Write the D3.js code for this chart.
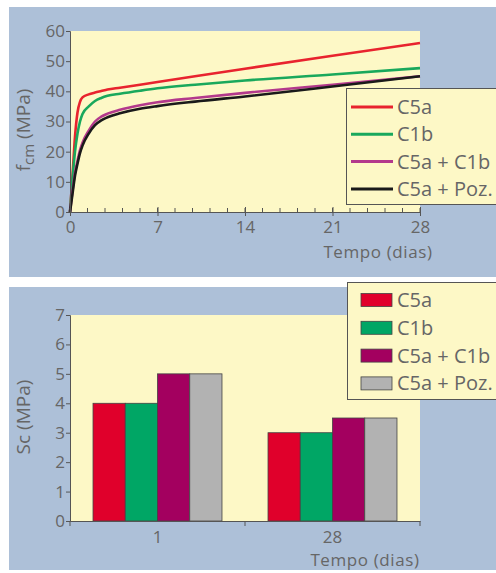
<!DOCTYPE html>
<html>
<head>
<meta charset="utf-8">
<script src="https://cdn.jsdelivr.net/npm/d3@7"></script>
<style>
  body { margin: 0; background: #fff; }
  text { font-family: "Open Sans", sans-serif; fill: #666; }
</style>
</head>
<body>
<div id="root"></div>
<script>
// curva de resistência (dias, MPa)
const days = [0, 0.2, 0.4, 0.6, 0.8, 1, 1.5, 2, 2.5, 3, 4, 5.6, 7, 10, 14, 21, 28];
const c5a      = [0, 12, 25, 33, 36.5, 38, 39, 39.6, 40.1, 40.6, 41.2, 42.2, 43.1, 45, 47.5, 51.8, 56];
const c1b      = [0, 11, 20, 26, 30, 32.5, 35, 36.8, 37.8, 38.5, 39.2, 40.2, 41, 42.2, 43.6, 45.6, 47.7];
const c5aC1b   = [0, 7, 13, 17, 20.5, 23, 27, 30, 31.6, 32.6, 33.9, 35.4, 36.4, 37.8, 39.5, 42.2, 45];
const c5aPoz   = [0, 6, 12, 16, 19.5, 22, 26, 28.8, 30.4, 31.4, 32.7, 34.2, 35.1, 36.6, 38.3, 41.6, 45];
const xTicksTop = [0, 7, 14, 21, 28];
const yTicksTop = [0, 10, 20, 30, 40, 50, 60];

// Sc (MPa) por idade
const ages = ["1", "28"];
const seriesNames = ["C5a", "C1b", "C5a + C1b", "C5a + Poz."];
const scAge1 = [4, 4, 5, 5];
const scAge28 = [3, 3, 3.5, 3.5];
const yTicksBottom = [0, 1, 2, 3, 4, 5, 6, 7];

const lineColors = ["#e8232e", "#19a85c", "#b3398c", "#1a1a1a"];
const barColors = ["#e0002b", "#00a665", "#a3005f", "#b2b2b2"];
const panelBlue = "#adc0d8";
const plotYellow = "#fdf8c6";
const axisColor = "#555";
const tickFont = "17px";

let svg = d3.select("#root").append("svg")
  .attr("width", 496).attr("height", 573);

// ---------- painel superior ----------
svg.append("rect").attr("x", 9).attr("y", 7).attr("width", 487).attr("height", 270)
  .attr("fill", panelBlue);

let x = d3.scaleLinear().domain([0, 28]).range([70, 420]);
let y = d3.scaleLinear().domain([0, 60]).range([212, 31]);

svg.append("rect").attr("x", x(0)).attr("y", y(60))
  .attr("width", x(28) - x(0)).attr("height", y(0) - y(60)).attr("fill", plotYellow);

let curvesG = svg.append("g");
let series = [c5a, c1b, c5aC1b, c5aPoz];
let line = d3.line()
  .curve(d3.curveMonotoneX)
  .x((d, i) => x(days[i]))
  .y(d => y(d));
series.forEach((s, k) => {
  curvesG.append("path").datum(s)
    .attr("fill", "none")
    .attr("stroke", lineColors[k])
    .attr("stroke-width", 2.6)
    .attr("d", line);
});

// eixo y
let yAxis = svg.append("g").attr("transform", `translate(${x(0)},0)`)
  .call(d3.axisLeft(y).tickValues(yTicksTop).tickSize(4).tickPadding(1));
yAxis.select(".domain").attr("stroke", axisColor);
yAxis.selectAll("line").attr("stroke", axisColor);
yAxis.selectAll("text").style("font-size", tickFont).attr("fill", "#666");

// eixo x (ticks menores para dentro)
let minor = d3.range(0, 28.01, 1.4);
svg.append("g").selectAll("line").data(minor).join("line")
  .attr("x1", d => x(d)).attr("x2", d => x(d))
  .attr("y1", y(0) - 4).attr("y2", y(0))
  .attr("stroke", axisColor);
let xAxis = svg.append("g").attr("transform", `translate(0,${y(0)})`)
  .call(d3.axisBottom(x).tickValues(xTicksTop).tickSize(4).tickPadding(5));
xAxis.select(".domain").attr("stroke", axisColor);
xAxis.selectAll(".tick line").attr("y1", -5).attr("stroke", axisColor);
xAxis.selectAll("text").style("font-size", tickFont).attr("fill", "#666");

svg.append("text").attr("x", 378).attr("y", 258).attr("text-anchor", "middle")
  .style("font-size", "17px").style("letter-spacing", "0.6px").text("Tempo (dias)");

let yl = svg.append("text").attr("transform", "translate(30,130) rotate(-90)")
  .attr("text-anchor", "middle").style("font-size", "19px");
yl.append("tspan").text("f");
yl.append("tspan").attr("dy", 4).style("font-size", "15px").text("cm");
yl.append("tspan").attr("dy", -4).text(" (MPa)");

// legenda superior
let legTop = svg.append("g");
legTop.append("rect").attr("x", 346.5).attr("y", 88.5).attr("width", 160).attr("height", 116)
  .attr("fill", plotYellow).attr("stroke", axisColor);
seriesNames.forEach((n, k) => {
  let ly = 107 + k * 27.3;
  legTop.append("line").attr("x1", 351).attr("x2", 393).attr("y1", ly).attr("y2", ly)
    .attr("stroke", lineColors[k]).attr("stroke-width", 3);
  legTop.append("text").attr("x", 397).attr("y", ly + 7)
    .style("font-size", "20px").attr("fill", "#555").text(n);
});

// ---------- painel inferior ----------
svg.append("rect").attr("x", 9).attr("y", 287).attr("width", 487).attr("height", 283)
  .attr("fill", panelBlue);

let xb = d3.scaleBand().domain(ages).range([70, 420])
  .paddingInner(0.263).paddingOuter(0.1315);
let xs = d3.scaleBand().domain(seriesNames).range([0, xb.bandwidth()]);
let yb = d3.scaleLinear().domain([0, 7]).range([521, 315]);

svg.append("rect").attr("x", 70).attr("y", yb(7))
  .attr("width", 350).attr("height", yb(0) - yb(7)).attr("fill", plotYellow);

let barData = ages.map((a, i) => ({ age: a, values: i === 0 ? scAge1 : scAge28 }));
let groups = svg.append("g").selectAll("g").data(barData).join("g")
  .attr("transform", d => `translate(${xb(d.age)},0)`);
groups.selectAll("rect").data(d => d.values.map((v, k) => ({ name: seriesNames[k], v, k })))
  .join("rect")
  .attr("x", d => xs(d.name))
  .attr("y", d => yb(d.v))
  .attr("width", xs.bandwidth())
  .attr("height", d => yb(0) - yb(d.v))
  .attr("fill", d => barColors[d.k])
  .attr("stroke", "#444")
  .attr("stroke-width", 0.8);

let yAxisB = svg.append("g").attr("transform", "translate(70,0)")
  .call(d3.axisLeft(yb).tickValues(yTicksBottom).tickFormat(d3.format("d"))
    .tickSize(4).tickPadding(1));
yAxisB.select(".domain").attr("stroke", axisColor);
yAxisB.selectAll("line").attr("stroke", axisColor);
yAxisB.selectAll("text").style("font-size", tickFont).attr("fill", "#666");

let xAxisB = svg.append("g").attr("transform", `translate(0,${yb(0)})`)
  .call(d3.axisBottom(xb).tickSize(0).tickPadding(10));
xAxisB.select(".domain").attr("stroke", axisColor);
xAxisB.selectAll("text").style("font-size", tickFont).attr("fill", "#666");
let bounds = [xb(ages[0]) - xb.step() * xb.paddingOuter()]
  .concat(ages.map(a => xb(a) + xb.bandwidth() + xb.step() * xb.paddingInner() / 2));
bounds[bounds.length - 1] = xb.range()[1];
svg.append("g").selectAll("line").data(bounds).join("line")
  .attr("x1", d => d).attr("x2", d => d)
  .attr("y1", yb(0)).attr("y2", yb(0) + 5)
  .attr("stroke", axisColor);

svg.append("text").attr("x", 365).attr("y", 566).attr("text-anchor", "middle")
  .style("font-size", "17px").style("letter-spacing", "0.6px").text("Tempo (dias)");
svg.append("text").attr("transform", "translate(30,417) rotate(-90)")
  .attr("text-anchor", "middle").style("font-size", "19px").text("Sc (MPa)");

// legenda inferior
let legB = svg.append("g");
legB.append("rect").attr("x", 347.5).attr("y", 282.5).attr("width", 160).attr("height", 117)
  .attr("fill", plotYellow).attr("stroke", axisColor);
seriesNames.forEach((n, k) => {
  let ly = 300 + k * 27.8;
  legB.append("rect").attr("x", 361).attr("y", ly - 6.5).attr("width", 31).attr("height", 13)
    .attr("fill", barColors[k]).attr("stroke", "#444").attr("stroke-width", 0.8);
  legB.append("text").attr("x", 397).attr("y", ly + 7)
    .style("font-size", "20px").attr("fill", "#555").text(n);
});
</script>
</body>
</html>
